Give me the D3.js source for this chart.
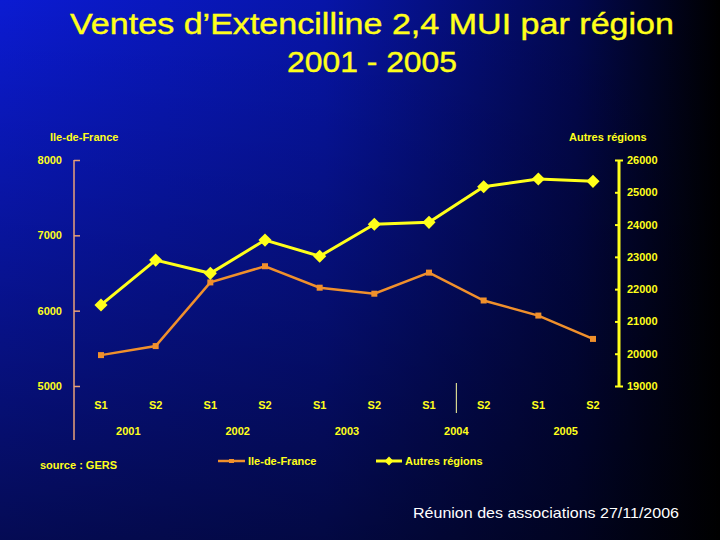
<!DOCTYPE html>
<html>
<head>
<meta charset="utf-8">
<script src="https://cdn.jsdelivr.net/npm/d3@7"></script>
<style>
  body { margin: 0; background: #000; }
  svg { display: block; font-family: "Liberation Sans", Arial, sans-serif; }
</style>
</head>
<body>
<svg id="chart" width="720" height="540"></svg>
<script>
// data
const semesters = ["S1", "S2", "S1", "S2", "S1", "S2", "S1", "S2", "S1", "S2"];
const years = ["2001", "2002", "2003", "2004", "2005"];
const ileDeFrance = [5410, 5530, 6375, 6590, 6305, 6225, 6505, 6135, 5935, 5625];
const autresRegions = [21510, 22900, 22490, 23520, 23020, 24010, 24070, 25170, 25410, 25340];
const leftTicks = [5000, 6000, 7000, 8000];
const rightTicks = [19000, 20000, 21000, 22000, 23000, 24000, 25000, 26000];

const svg = d3.select("#chart");
const yellow = "#ffff1a";
const orange = "#f0902c";

// background gradient
const defs = svg.append("defs");
const bg = defs.append("linearGradient").attr("id", "bgH").attr("x1", "0").attr("x2", "1").attr("y1", "0").attr("y2", "0");
bg.append("stop").attr("offset", "0%").attr("stop-color", "#0b1bd2");
bg.append("stop").attr("offset", "45%").attr("stop-color", "#0715a8");
bg.append("stop").attr("offset", "80%").attr("stop-color", "#020850");
bg.append("stop").attr("offset", "100%").attr("stop-color", "#000000");
const shade = defs.append("linearGradient").attr("id", "bgV").attr("x1", "0").attr("x2", "0").attr("y1", "0").attr("y2", "1");
shade.append("stop").attr("offset", "0%").attr("stop-color", "#000").attr("stop-opacity", 0);
shade.append("stop").attr("offset", "100%").attr("stop-color", "#000").attr("stop-opacity", 0.6);
svg.append("rect").attr("width", 720).attr("height", 540).attr("fill", "url(#bgH)");
svg.append("rect").attr("width", 720).attr("height", 540).attr("fill", "url(#bgV)");

// title
svg.append("text").attr("x", 372).attr("y", 34).attr("text-anchor", "middle")
  .attr("fill", yellow).style("font-size", "30px").attr("stroke", yellow).attr("stroke-width", 0.4)
  .attr("textLength", 604).attr("lengthAdjust", "spacingAndGlyphs")
  .text("Ventes d’Extencilline 2,4 MUI par région");
svg.append("text").attr("x", 372).attr("y", 72).attr("text-anchor", "middle")
  .attr("fill", yellow).style("font-size", "30px").attr("stroke", yellow).attr("stroke-width", 0.4)
  .attr("textLength", 170).attr("lengthAdjust", "spacingAndGlyphs")
  .text("2001 - 2005");

// scales
const x = d3.scalePoint().domain(d3.range(semesters.length)).range([101, 593]);
const yLeft = d3.scaleLinear().domain([5000, 8000]).range([386, 160]);
const yRight = d3.scaleLinear().domain([19000, 26000]).range([386, 160]);

// left axis
svg.append("line").attr("x1", 74).attr("x2", 74).attr("y1", 160).attr("y2", 440)
  .attr("stroke", "#e8a078").attr("stroke-width", 1.5);
const gl = svg.append("g").attr("transform", "translate(74,0)")
  .call(d3.axisLeft(yLeft).tickValues(leftTicks).tickFormat(d3.format("d")).tickSize(6).tickPadding(6));
gl.select(".domain").remove();
gl.selectAll(".tick line").attr("x2", 6).attr("stroke", "#e8a078").attr("stroke-width", 1.5);
gl.selectAll(".tick text").attr("fill", yellow).style("font-size", "11px").style("font-weight", "bold")
  .style("font-family", "'Liberation Sans', Arial, sans-serif");

// right axis
svg.append("line").attr("x1", 619).attr("x2", 619).attr("y1", 160).attr("y2", 386)
  .attr("stroke", yellow).attr("stroke-width", 3);
const gr = svg.append("g").attr("transform", "translate(619,0)")
  .call(d3.axisRight(yRight).tickValues(rightTicks).tickFormat(d3.format("d")).tickSize(0).tickPadding(8));
gr.select(".domain").remove();
gr.selectAll(".tick line").attr("x1", -4).attr("x2", 1).attr("stroke", yellow).attr("stroke-width", 2);
gr.selectAll(".tick").filter(d => d === 26000 || d === 19000).select("line").attr("x1", -4).attr("x2", 4);
gr.selectAll(".tick text").attr("fill", yellow).style("font-size", "11px").style("font-weight", "bold")
  .style("font-family", "'Liberation Sans', Arial, sans-serif");

// axis titles
svg.append("text").attr("x", 50).attr("y", 141).attr("fill", yellow)
  .style("font-size", "11px").style("font-weight", "bold").text("Ile-de-France");
svg.append("text").attr("x", 569).attr("y", 141).attr("fill", yellow)
  .style("font-size", "11px").style("font-weight", "bold").text("Autres régions");

// category labels
svg.append("g").selectAll("text").data(semesters).join("text")
  .attr("x", (d, i) => x(i)).attr("y", 409).attr("text-anchor", "middle")
  .attr("fill", yellow).style("font-size", "11px").style("font-weight", "bold")
  .text(d => d);
svg.append("g").selectAll("text").data(years).join("text")
  .attr("x", (d, i) => (x(i * 2) + x(i * 2 + 1)) / 2).attr("y", 435).attr("text-anchor", "middle")
  .attr("fill", yellow).style("font-size", "11px").style("font-weight", "bold")
  .text(d => d);
// lone separator tick in the category axis
svg.append("line").attr("x1", (x(6) + x(7)) / 2).attr("x2", (x(6) + x(7)) / 2)
  .attr("y1", 383).attr("y2", 413).attr("stroke", "#ffffa0").attr("stroke-width", 1);

// lines
const lineL = d3.line().x((d, i) => x(i)).y(d => yLeft(d));
const lineR = d3.line().x((d, i) => x(i)).y(d => yRight(d));

svg.append("path").datum(ileDeFrance).attr("fill", "none")
  .attr("stroke", orange).attr("stroke-width", 2.5).attr("d", lineL);
svg.append("g").selectAll("rect").data(ileDeFrance).join("rect")
  .attr("x", (d, i) => x(i) - 3).attr("y", d => yLeft(d) - 3)
  .attr("width", 6).attr("height", 6).attr("fill", orange);

const diamond = d3.symbol().type(d3.symbolDiamond2).size(110);
svg.append("path").datum(autresRegions).attr("fill", "none")
  .attr("stroke", yellow).attr("stroke-width", 3).attr("d", lineR);
svg.append("g").selectAll("path").data(autresRegions).join("path")
  .attr("transform", (d, i) => `translate(${x(i)},${yRight(d)})`)
  .attr("d", diamond).attr("fill", yellow);

// legend
svg.append("line").attr("x1", 218).attr("x2", 245).attr("y1", 461).attr("y2", 461)
  .attr("stroke", orange).attr("stroke-width", 2.5);
svg.append("rect").attr("x", 229).attr("y", 459).attr("width", 5).attr("height", 4).attr("fill", orange);
svg.append("text").attr("x", 248).attr("y", 465).attr("fill", yellow)
  .style("font-size", "11px").style("font-weight", "bold").text("Ile-de-France");
svg.append("line").attr("x1", 376).attr("x2", 402).attr("y1", 461).attr("y2", 461)
  .attr("stroke", yellow).attr("stroke-width", 3);
svg.append("path").attr("transform", "translate(389,461)")
  .attr("d", d3.symbol().type(d3.symbolDiamond2).size(50)).attr("fill", yellow);
svg.append("text").attr("x", 405).attr("y", 465).attr("fill", yellow)
  .style("font-size", "11px").style("font-weight", "bold").text("Autres régions");

svg.append("text").attr("x", 40).attr("y", 469).attr("fill", yellow)
  .style("font-size", "11px").style("font-weight", "bold").text("source : GERS");

// footer
svg.append("text").attr("x", 413).attr("y", 518).attr("fill", "#ffffff")
  .style("font-size", "14.5px").attr("textLength", 266).attr("lengthAdjust", "spacingAndGlyphs")
  .text("Réunion des associations 27/11/2006");
</script>
</body>
</html>
